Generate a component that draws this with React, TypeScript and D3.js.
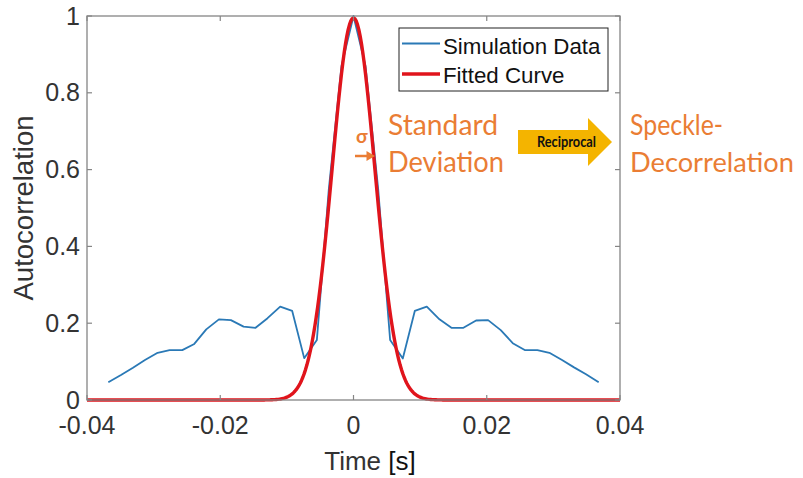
import React from "react";
import * as d3 from "d3";

// ---- data ----
const lagTimes = [
  -0.0368, -0.0349, -0.0331, -0.0313, -0.0294, -0.0276, -0.0257, -0.0239, -0.0221, -0.0202,
  -0.0184, -0.0165, -0.0147, -0.0129, -0.011, -0.0092, -0.0074, -0.0055, -0.0037, -0.0018,
  0,
  0.0018, 0.0037, 0.0055, 0.0074, 0.0092, 0.011, 0.0129, 0.0147, 0.0165, 0.0184,
  0.0202, 0.0221, 0.0239, 0.0257, 0.0276, 0.0294, 0.0313, 0.0331, 0.0349, 0.0368,
];
const simulationValues = [
  0.046, 0.065, 0.084, 0.104, 0.123, 0.13, 0.13, 0.146, 0.184, 0.21,
  0.208, 0.191, 0.188, 0.213, 0.243, 0.232, 0.109, 0.156, 0.55, 0.87,
  1.0,
  0.87, 0.55, 0.156, 0.108, 0.232, 0.243, 0.21, 0.188, 0.188, 0.207,
  0.208, 0.182, 0.148, 0.13, 0.13, 0.123, 0.104, 0.085, 0.067, 0.046,
];
// fitted gaussian parameters: [amplitude, sigma]
const fitParams = [0.995, 0.0032];
const xTicks = [-0.04, -0.02, 0, 0.02, 0.04];
const xTickLabels = ["-0.04", "-0.02", "0", "0.02", "0.04"];
const yTicks = [0, 0.2, 0.4, 0.6, 0.8, 1];
const yTickLabels = ["0", "0.2", "0.4", "0.6", "0.8", "1"];
const legendLabels = ["Simulation Data", "Fitted Curve"];

const W = 803;
const H = 478;
const plot = { left: 87, right: 620, top: 16, bottom: 400 };
const BLUE = "#2a79b6";
const RED = "#e0141c";
const ORANGE = "#ea7d34";
const AXIS = "#858585";
const SANS = "'Liberation Sans', Arial, sans-serif";
const CAL = "Lato, 'Open Sans', sans-serif";

export default function App() {
  const x = d3.scaleLinear().domain([-0.04, 0.04]).range([plot.left, plot.right]);
  const y = d3.scaleLinear().domain([0, 1]).range([plot.bottom, plot.top]);

  const simLine = d3
    .line<number>()
    .x((_, i) => x(lagTimes[i]))
    .y((v) => y(v))(simulationValues) as string;

  const [amp, sigma] = fitParams;
  const fitT = d3.range(-0.04, 0.04 + 1e-9, 0.0002);
  const fitLine = d3
    .line<number>()
    .x((t) => x(t))
    .y((t) => y(amp * Math.exp(-(t * t) / (2 * sigma * sigma))))
    .curve(d3.curveLinear)(fitT) as string;

  const tickLen = 5;

  return (
    <svg
      width={W}
      height={H}
      style={{ position: "absolute", left: 0, top: 0, background: "#fff" }}
    >
      <rect x={0} y={0} width={W} height={H} fill="#fff" />
      {/* data */}
      <path d={simLine} fill="none" stroke={BLUE} strokeWidth={1.8} strokeLinejoin="round" />
      <path d={fitLine} fill="none" stroke={RED} strokeWidth={3.4} strokeLinejoin="round" />

      {/* axes box */}
      <rect
        x={plot.left}
        y={plot.top}
        width={plot.right - plot.left}
        height={plot.bottom - plot.top}
        fill="none"
        stroke={AXIS}
        strokeWidth={1.3}
      />
      {xTicks.map((t, i) => (
        <g key={"xt" + i}>
          <line x1={x(t)} x2={x(t)} y1={plot.bottom} y2={plot.bottom - tickLen} stroke={AXIS} strokeWidth={1.2} />
          <line x1={x(t)} x2={x(t)} y1={plot.top} y2={plot.top + tickLen} stroke={AXIS} strokeWidth={1.2} />
          <text
            x={x(t)}
            y={434}
            textAnchor="middle"
            fontFamily={SANS}
            fontSize={25}
            fill="#333"
          >
            {xTickLabels[i]}
          </text>
        </g>
      ))}
      {yTicks.map((t, i) => (
        <g key={"yt" + i}>
          <line x1={plot.left} x2={plot.left + tickLen} y1={y(t)} y2={y(t)} stroke={AXIS} strokeWidth={1.2} />
          <line x1={plot.right} x2={plot.right - tickLen} y1={y(t)} y2={y(t)} stroke={AXIS} strokeWidth={1.2} />
          <text
            x={80}
            y={y(t) + 8.5}
            textAnchor="end"
            fontFamily={SANS}
            fontSize={25}
            fill="#333"
          >
            {yTickLabels[i]}
          </text>
        </g>
      ))}

      {/* axis labels */}
      <text
        transform={`translate(33, ${(plot.top + plot.bottom) / 2}) rotate(-90)`}
        textAnchor="middle"
        fontFamily={SANS}
        fontSize={27.5}
        fill="#333"
      >
        Autocorrelation
      </text>
      <text x={370} y={470} textAnchor="middle" fontFamily={SANS} fontSize={26} fill="#333">
        Time <tspan fill="#111">[s]</tspan>
      </text>

      {/* legend */}
      <rect x={399} y={28} width={209} height={63} fill="#fff" stroke="#222" strokeWidth={1} />
      <line x1={402} x2={440} y1={43.5} y2={43.5} stroke={BLUE} strokeWidth={1.8} />
      <line x1={402} x2={440} y1={74} y2={74} stroke={RED} strokeWidth={3.4} />
      <text x={443} y={53.5} fontFamily={SANS} fontSize={22.3} fill="#111">
        {legendLabels[0]}
      </text>
      <text x={443} y={82.5} fontFamily={SANS} fontSize={22.3} fill="#111">
        {legendLabels[1]}
      </text>

      {/* annotations */}
      <text x={388} y={135} fontFamily={CAL} fontSize={29} fill={ORANGE} textLength={110} lengthAdjust="spacingAndGlyphs">
        Standard
      </text>
      <text x={388} y={172} fontFamily={CAL} fontSize={29} fill={ORANGE} textLength={116} lengthAdjust="spacingAndGlyphs">
        Deviation
      </text>
      <text x={630} y={135} fontFamily={CAL} fontSize={29} fill={ORANGE} textLength={93} lengthAdjust="spacingAndGlyphs">
        Speckle-
      </text>
      <text x={630} y={172} fontFamily={CAL} fontSize={27} fill={ORANGE} textLength={164} lengthAdjust="spacingAndGlyphs">
        Decorrelation
      </text>

      {/* sigma marker */}
      <text x={356} y={143} fontFamily={CAL} fontSize={19} fontWeight="bold" fill={ORANGE}>
        σ
      </text>
      <line x1={355} x2={369} y1={156} y2={156} stroke={ORANGE} strokeWidth={2.5} />
      <polygon points="366.5,151 375,156 366.5,161" fill={ORANGE} />

      {/* reciprocal arrow */}
      <polygon
        points="518,130 588,130 588,118 612,142 588,166 588,154 518,154"
        fill="#f4b400"
      />
      <text x={537} y={147} fontFamily={CAL} fontSize={15} fontWeight="bold" fill="#111" textLength={59} lengthAdjust="spacingAndGlyphs">
        Reciprocal
      </text>
    </svg>
  );
}
